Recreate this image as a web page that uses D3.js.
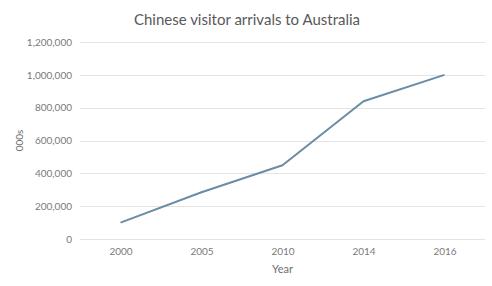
<!DOCTYPE html>
<html>
<head>
<meta charset="utf-8">
<script src="https://cdn.jsdelivr.net/npm/d3@7"></script>
<style>
  body { margin: 0; background: #fff; }
  text { font-family: Lato, "Open Sans", sans-serif; }
</style>
</head>
<body>
<svg id="chart" width="492" height="286"></svg>
<script>
// data
var years = ["2000", "2005", "2010", "2014", "2016"];
var arrivals = [100000, 285000, 449000, 839000, 1000000];
var yTicks = [0, 200000, 400000, 600000, 800000, 1000000, 1200000];

var svg = d3.select("#chart");
var margin = {top: 42, right: 7, bottom: 47, left: 80},
    width = +svg.attr("width") - margin.left - margin.right,
    height = +svg.attr("height") - margin.top - margin.bottom;

var x = d3.scalePoint()
    .domain(years)
    .range([0, width])
    .padding(0.5);

var y = d3.scaleLinear()
    .domain([0, 1200000])
    .range([height, 0]);

var g = svg.append("g")
    .attr("transform", "translate(" + margin.left + "," + margin.top + ")");

// title
svg.append("text")
    .attr("x", 247)
    .attr("y", 25)
    .attr("text-anchor", "middle")
    .style("font-size", "15px")
    .style("fill", "#595959")
    .text("Chinese visitor arrivals to Australia");

// gridlines
g.selectAll(".grid")
    .data(yTicks)
    .enter().append("line")
    .attr("class", "grid")
    .attr("x1", 0)
    .attr("x2", width)
    .attr("y1", function(d) { return Math.round(y(d)) + 0.5; })
    .attr("y2", function(d) { return Math.round(y(d)) + 0.5; })
    .style("stroke", "#e4e4e4")
    .style("stroke-width", 1);

// y axis
var yAxis = g.append("g")
    .call(d3.axisLeft(y).tickValues(yTicks).tickSize(0).tickPadding(8).tickFormat(d3.format(",")));
yAxis.select(".domain").remove();
yAxis.selectAll("text")
    .style("font-size", "10px")
    .style("fill", "#7a7a7a");

// x axis
var xAxis = g.append("g")
    .attr("transform", "translate(0," + height + ")")
    .call(d3.axisBottom(x).tickSize(0).tickPadding(9));
xAxis.select(".domain").remove();
xAxis.selectAll("text")
    .style("font-size", "10px")
    .style("fill", "#7a7a7a");

// axis titles
svg.append("text")
    .attr("transform", "translate(23," + (margin.top + height / 2) + ") rotate(-90)")
    .attr("text-anchor", "middle")
    .style("font-size", "10px")
    .style("fill", "#6e6e6e")
    .text("000s");

svg.append("text")
    .attr("x", margin.left + width / 2)
    .attr("y", 273)
    .attr("text-anchor", "middle")
    .style("font-size", "11px")
    .style("fill", "#6e6e6e")
    .text("Year");

// the line
var line = d3.line()
    .x(function(d, i) { return x(years[i]); })
    .y(function(d) { return y(d); });

g.append("path")
    .datum(arrivals)
    .attr("fill", "none")
    .attr("stroke", "#6a8ca6")
    .attr("stroke-width", 2)
    .attr("stroke-linejoin", "round")
    .attr("d", line);
</script>
</body>
</html>
